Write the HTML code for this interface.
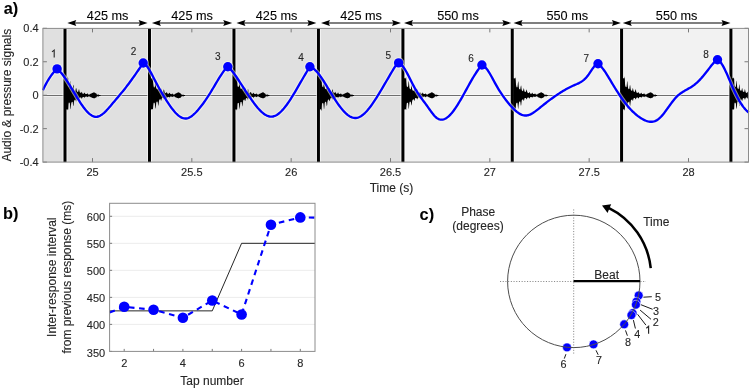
<!DOCTYPE html>
<html><head><meta charset="utf-8"><style>
html,body{margin:0;padding:0;background:#fff;width:751px;height:389px;overflow:hidden}
svg{display:block;will-change:transform}
text{font-family:"Liberation Sans",sans-serif;stroke:#262626;stroke-width:0.12px}
</style></head><body>
<svg width="751" height="389" viewBox="0 0 751 389" font-family="Liberation Sans, sans-serif">
<rect width="751" height="389" fill="#fff"/>
<rect x="42.9" y="28.4" width="360.02000000000004" height="133.7" fill="#e0e0e0"/>
<rect x="402.92" y="28.4" width="345.58" height="133.7" fill="#f2f2f2"/>
<line x1="42.9" y1="95.5" x2="748.5" y2="95.5" stroke="#fff" stroke-opacity="0.45" stroke-width="3"/>
<line x1="42.9" y1="95.5" x2="748.5" y2="95.5" stroke="#6e6e6e" stroke-width="1"/>
<rect x="62.5" y="28.4" width="5" height="133.7" fill="#fff" fill-opacity="0.6"/>
<rect x="146.98" y="28.4" width="5" height="133.7" fill="#fff" fill-opacity="0.6"/>
<rect x="231.46" y="28.4" width="5" height="133.7" fill="#fff" fill-opacity="0.6"/>
<rect x="315.94" y="28.4" width="5" height="133.7" fill="#fff" fill-opacity="0.6"/>
<rect x="400.42" y="28.4" width="5" height="133.7" fill="#fff" fill-opacity="0.6"/>
<rect x="509.75" y="28.4" width="5" height="133.7" fill="#fff" fill-opacity="0.6"/>
<rect x="619.08" y="28.4" width="5" height="133.7" fill="#fff" fill-opacity="0.6"/>
<rect x="728.41" y="28.4" width="5" height="133.7" fill="#fff" fill-opacity="0.6"/>
<path d="M92.5,162.1 v-4 M92.5,28.4 v4 M191.83,162.1 v-4 M191.83,28.4 v4 M291.17,162.1 v-4 M291.17,28.4 v4 M390.5,162.1 v-4 M390.5,28.4 v4 M489.84,162.1 v-4 M489.84,28.4 v4 M589.17,162.1 v-4 M589.17,28.4 v4 M688.51,162.1 v-4 M688.51,28.4 v4 M42.9,28.3 h4 M748.5,28.3 h-4 M42.9,61.75 h4 M748.5,61.75 h-4 M42.9,95.2 h4 M748.5,95.2 h-4 M42.9,128.65 h4 M748.5,128.65 h-4 M42.9,162.1 h4 M748.5,162.1 h-4" stroke="#7a7a7a" stroke-width="1" fill="none"/>
<path d="M66,78.15 L66.25,78.15 L66.5,78.15 L66.75,78.22 L67,78.29 L67.25,78.36 L67.5,78.43 L67.75,76.15 L68,77.38 L68.25,78.93 L68.5,85.27 L68.75,86.5 L69,86.75 L69.25,87.12 L69.5,87.06 L69.75,87.15 L70,85.57 L70.25,83.39 L70.5,80.67 L70.75,82.14 L71,84.36 L71.25,87.51 L71.5,88.3 L71.75,88.79 L72,88.8 L72.25,89.02 L72.5,88.86 L72.75,88.25 L73,86.66 L73.25,84.79 L73.5,84.92 L73.75,86.94 L74,89.25 L74.25,90.08 L74.5,90.57 L74.75,90.89 L75,90.72 L75.25,90.85 L75.5,90.7 L75.75,89.09 L76,88.08 L76.25,88.23 L76.5,88.96 L76.75,90.75 L77,91.52 L77.25,91.92 L77.5,91.69 L77.75,91.76 L78,91.85 L78.25,91.63 L78.5,90.53 L78.75,89.64 L79,88.99 L79.25,90.03 L79.5,91.3 L79.75,92.24 L80,92.61 L80.25,92.65 L80.5,92.72 L80.75,92.84 L81,92.82 L81.25,92.64 L81.5,92.08 L81.75,91.77 L82,92.15 L82.25,93.01 L82.5,93.42 L82.75,93.65 L83,93.66 L83.25,93.69 L83.5,93.73 L83.75,93.73 L84,93.36 L84.25,93 L84.5,92.48 L84.75,92.85 L85,93.23 L85.25,93.72 L85.5,93.94 L85.75,93.94 L86,94.03 L86.25,94.06 L86.5,94.07 L86.75,93.94 L87,93.67 L87.25,93.28 L87.5,93.35 L87.75,93.73 L88,94.17 L88.25,94.39 L88.5,94.44 L88.75,94.41 L89,94.5 L89.25,94.47 L89.5,94.47 L89.75,94.33 L90,94.15 L90.25,94.05 L90.5,93.85 L90.75,93.75 L91,93.61 L91.25,93.57 L91.5,93.43 L91.75,93.28 L92,93.23 L92.25,93.04 L92.5,92.97 L92.75,92.81 L93,92.65 L93.25,92.56 L93.5,92.51 L93.75,92.39 L94,92.21 L94.25,92.39 L94.5,92.55 L94.75,92.65 L95,92.76 L95.25,92.95 L95.5,93.15 L95.75,93.21 L96,93.37 L96.25,93.51 L96.5,93.65 L96.75,94.49 L97,94.55 L97.25,94.59 L97.5,94.65 L97.75,94.68 L98,94.7 L98.25,94.59 L98.5,94.49 L98.75,94.61 L99,94.75 L99.25,94.89 L99.5,94.93 L99.75,94.96 L100,94.99 L100.25,95.03 L100.5,95.05 L100.5,95.94 L100.25,95.97 L100,96.01 L99.75,96.03 L99.5,96.05 L99.25,96.12 L99,96.23 L98.75,96.44 L98.5,96.46 L98.25,96.41 L98,96.33 L97.75,96.32 L97.5,96.34 L97.25,96.43 L97,96.49 L96.75,96.5 L96.5,97.37 L96.25,97.51 L96,97.59 L95.75,97.73 L95.5,97.76 L95.25,97.86 L95,97.95 L94.75,98.14 L94.5,98.23 L94.25,98.27 L94,98.43 L93.75,98.33 L93.5,98.26 L93.25,98.08 L93,98.01 L92.75,97.96 L92.5,97.91 L92.25,97.83 L92,97.72 L91.75,97.58 L91.5,97.52 L91.25,97.35 L91,97.29 L90.75,97.14 L90.5,97.03 L90.25,96.85 L90,96.74 L89.75,96.56 L89.5,96.43 L89.25,96.4 L89,96.42 L88.75,96.42 L88.5,96.46 L88.25,96.5 L88,96.58 L87.75,96.89 L87.5,97.11 L87.25,97.14 L87,97 L86.75,96.66 L86.5,96.59 L86.25,96.59 L86,96.6 L85.75,96.66 L85.5,96.65 L85.25,96.85 L85,97.15 L84.75,97.57 L84.5,97.7 L84.25,97.57 L84,97.19 L83.75,96.97 L83.5,97 L83.25,96.99 L83,97.08 L82.75,97.18 L82.5,97.28 L82.25,97.74 L82,98.42 L81.75,98.65 L81.5,98.54 L81.25,97.79 L81,97.57 L80.75,97.44 L80.5,97.56 L80.25,97.62 L80,97.54 L79.75,97.67 L79.5,98.32 L79.25,99.13 L79,99.59 L78.75,99.42 L78.5,98.71 L78.25,98.05 L78,98.05 L77.75,98.15 L77.5,98.24 L77.25,98.29 L77,98.52 L76.75,98.93 L76.5,100.17 L76.25,101.13 L76,101.5 L75.75,100.61 L75.5,99.69 L75.25,99.46 L75,99.87 L74.75,99.71 L74.5,100.14 L74.25,100.53 L74,101.59 L73.75,103.67 L73.5,106.24 L73.25,105.86 L73,104.71 L72.75,102.21 L72.5,101.75 L72.25,101.95 L72,101.71 L71.75,102.18 L71.5,102.5 L71.25,103.36 L71,105.22 L70.75,109.07 L70.5,109.29 L70.25,107.45 L70,104.22 L69.75,102.85 L69.5,102.63 L69.25,102.84 L69,102.6 L68.75,102.87 L68.5,104.24 L68.25,108.91 L68,109.91 L67.75,110.21 L67.5,109.17 L67.25,109.24 L67,109.31 L66.75,109.38 L66.5,109.45 L66.25,109.45 L66,109.45Z" fill="#000"/>
<path d="M150.48,78.15 L150.73,78.15 L150.98,78.15 L151.23,78.22 L151.48,78.29 L151.73,78.36 L151.98,78.43 L152.23,78.5 L152.48,78.58 L152.73,77.48 L152.98,79.8 L153.23,83.19 L153.48,85.41 L153.73,86.75 L153.98,87.48 L154.23,87.57 L154.48,87.05 L154.73,87.57 L154.98,85.67 L155.23,82.82 L155.48,81.03 L155.73,81.75 L155.98,85.7 L156.23,87.64 L156.48,88.78 L156.73,88.8 L156.98,89.04 L157.23,89.18 L157.48,89.44 L157.73,88.39 L157.98,86.9 L158.23,85.46 L158.48,85.92 L158.73,87.8 L158.98,89.72 L159.23,90.44 L159.48,90.8 L159.73,90.93 L159.98,91.24 L160.23,91.01 L160.48,91.05 L160.73,89.66 L160.98,88.69 L161.23,88.58 L161.48,89.57 L161.73,90.71 L161.98,91.63 L162.23,91.92 L162.48,91.76 L162.73,91.86 L162.98,91.99 L163.23,91.62 L163.48,90.59 L163.73,89.6 L163.98,89.62 L164.23,90.57 L164.48,91.63 L164.73,92.63 L164.98,92.87 L165.23,92.96 L165.48,92.99 L165.73,93.19 L165.98,93.16 L166.23,92.78 L166.48,92.25 L166.73,91.92 L166.98,92.4 L167.23,93.05 L167.48,93.51 L167.73,93.73 L167.98,93.73 L168.23,93.8 L168.48,93.81 L168.73,93.76 L168.98,93.49 L169.23,93.12 L169.48,92.77 L169.73,92.82 L169.98,93.29 L170.23,93.76 L170.48,94.02 L170.73,94.06 L170.98,94.08 L171.23,94.17 L171.48,94.15 L171.73,94.09 L171.98,93.8 L172.23,93.53 L172.48,93.62 L172.73,93.96 L172.98,94.26 L173.23,94.41 L173.48,94.45 L173.73,94.5 L173.98,94.55 L174.23,94.61 L174.48,94.55 L174.73,94.33 L174.98,93.87 L175.23,93.72 L175.48,93.66 L175.73,93.54 L175.98,93.4 L176.23,93.33 L176.48,93.18 L176.73,93.08 L176.98,92.96 L177.23,92.82 L177.48,92.74 L177.73,92.53 L177.98,92.43 L178.23,92.34 L178.48,92.23 L178.73,92.39 L178.98,92.57 L179.23,92.62 L179.48,92.75 L179.73,93.01 L179.98,93.07 L180.23,93.25 L180.48,93.4 L180.73,93.54 L180.98,93.64 L181.23,94.17 L181.48,94.44 L181.73,94.6 L181.98,94.66 L182.23,94.7 L182.48,94.77 L182.73,94.8 L182.98,94.72 L183.23,94.66 L183.48,94.65 L183.73,94.68 L183.98,94.85 L184.23,94.95 L184.48,94.99 L184.73,95.03 L184.98,95.05 L184.98,95.95 L184.73,95.97 L184.48,96 L184.23,96.06 L183.98,96.15 L183.73,96.31 L183.48,96.4 L183.23,96.32 L182.98,96.24 L182.73,96.21 L182.48,96.24 L182.23,96.31 L181.98,96.34 L181.73,96.41 L181.48,96.52 L181.23,96.85 L180.98,97.4 L180.73,97.49 L180.48,97.63 L180.23,97.69 L179.98,97.82 L179.73,97.91 L179.48,98.02 L179.23,98.11 L178.98,98.14 L178.73,98.24 L178.48,98.42 L178.23,98.29 L177.98,98.18 L177.73,98.08 L177.48,98.03 L177.23,97.91 L176.98,97.84 L176.73,97.78 L176.48,97.66 L176.23,97.62 L175.98,97.45 L175.73,97.34 L175.48,97.3 L175.23,97.16 L174.98,97.05 L174.73,96.66 L174.48,96.38 L174.23,96.35 L173.98,96.37 L173.73,96.38 L173.48,96.43 L173.23,96.42 L172.98,96.54 L172.73,96.8 L172.48,97.02 L172.23,97.04 L171.98,96.92 L171.73,96.66 L171.48,96.53 L171.23,96.56 L170.98,96.6 L170.73,96.61 L170.48,96.61 L170.23,96.73 L169.98,97.11 L169.73,97.46 L169.48,97.55 L169.23,97.34 L168.98,97.04 L168.73,96.87 L168.48,96.94 L168.23,97.02 L167.98,97.01 L167.73,97.08 L167.48,97.28 L167.23,97.59 L166.98,98.33 L166.73,98.6 L166.48,98.44 L166.23,97.88 L165.98,97.51 L165.73,97.32 L165.48,97.37 L165.23,97.49 L164.98,97.44 L164.73,97.77 L164.48,98.14 L164.23,98.86 L163.98,99.61 L163.73,99.08 L163.48,98.4 L163.23,97.93 L162.98,97.83 L162.73,97.84 L162.48,98 L162.23,98.02 L161.98,98.34 L161.73,98.7 L161.48,99.77 L161.23,100.86 L160.98,100.82 L160.73,99.99 L160.48,99.28 L160.23,99.07 L159.98,99.21 L159.73,99.37 L159.48,99.74 L159.23,100.03 L158.98,101.24 L158.73,103.29 L158.48,105.48 L158.23,105.76 L157.98,103.87 L157.73,102.43 L157.48,101.53 L157.23,101.7 L156.98,101.5 L156.73,101.71 L156.48,101.93 L156.23,102.83 L155.98,105.4 L155.73,108.46 L155.48,108.51 L155.23,107.2 L154.98,104.52 L154.73,103.24 L154.48,102.82 L154.23,102.76 L153.98,102.69 L153.73,102.75 L153.48,103.71 L153.23,105.8 L152.98,108.98 L152.73,109.72 L152.48,109.02 L152.23,109.1 L151.98,109.17 L151.73,109.24 L151.48,109.31 L151.23,109.38 L150.98,109.45 L150.73,109.45 L150.48,109.45Z" fill="#000"/>
<path d="M234.96,78.15 L235.21,78.15 L235.46,78.15 L235.71,78.22 L235.96,78.29 L236.21,78.36 L236.46,78.43 L236.71,77.52 L236.96,76.77 L237.21,78.93 L237.46,85.3 L237.71,86.21 L237.96,87.09 L238.21,86.9 L238.46,86.75 L238.71,86.72 L238.96,85.81 L239.21,83.04 L239.46,81.72 L239.71,81.68 L239.96,84.09 L240.21,87.09 L240.46,88.42 L240.71,88.67 L240.96,88.64 L241.21,88.8 L241.46,88.85 L241.71,88.89 L241.96,86.62 L242.21,85 L242.46,85.08 L242.71,86.48 L242.96,89.11 L243.21,89.85 L243.46,90.36 L243.71,90.83 L243.96,90.69 L244.21,91.14 L244.46,90.95 L244.71,89.88 L244.96,88.08 L245.21,87.59 L245.46,89.16 L245.71,90.66 L245.96,91.46 L246.21,91.86 L246.46,91.67 L246.71,91.68 L246.96,91.92 L247.21,91.72 L247.46,90.97 L247.71,89.7 L247.96,88.99 L248.21,89.54 L248.46,91.15 L248.71,92.1 L248.96,92.66 L249.21,92.65 L249.46,92.77 L249.71,93.02 L249.96,92.97 L250.21,92.73 L250.46,92.03 L250.71,91.89 L250.96,91.91 L251.21,92.75 L251.46,93.37 L251.71,93.63 L251.96,93.64 L252.21,93.71 L252.46,93.79 L252.71,93.68 L252.96,93.58 L253.21,93.13 L253.46,92.65 L253.71,92.75 L253.96,93.18 L254.21,93.67 L254.46,93.96 L254.71,93.98 L254.96,94.04 L255.21,94.12 L255.46,94.13 L255.71,93.98 L255.96,93.77 L256.21,93.39 L256.46,93.41 L256.71,93.73 L256.96,94.12 L257.21,94.33 L257.46,94.41 L257.71,94.47 L257.96,94.45 L258.21,94.48 L258.46,94.47 L258.71,94.4 L258.96,94.18 L259.21,94 L259.46,93.87 L259.71,93.78 L259.96,93.66 L260.21,93.57 L260.46,93.4 L260.71,93.27 L260.96,93.19 L261.21,93.05 L261.46,92.98 L261.71,92.83 L261.96,92.66 L262.21,92.61 L262.46,92.42 L262.71,92.31 L262.96,92.27 L263.21,92.33 L263.46,92.48 L263.71,92.62 L263.96,92.87 L264.21,92.92 L264.46,93.13 L264.71,93.25 L264.96,93.4 L265.21,93.56 L265.46,94.33 L265.71,94.49 L265.96,94.51 L266.21,94.59 L266.46,94.66 L266.71,94.69 L266.96,94.71 L267.21,94.62 L267.46,94.52 L267.71,94.58 L267.96,94.74 L268.21,94.86 L268.46,94.94 L268.71,94.97 L268.96,95 L269.21,95.02 L269.46,95.05 L269.46,95.95 L269.21,95.97 L268.96,96 L268.71,96.03 L268.46,96.07 L268.21,96.15 L267.96,96.27 L267.71,96.4 L267.46,96.49 L267.21,96.37 L266.96,96.28 L266.71,96.3 L266.46,96.34 L266.21,96.4 L265.96,96.44 L265.71,96.58 L265.46,96.67 L265.21,97.45 L264.96,97.63 L264.71,97.7 L264.46,97.78 L264.21,97.85 L263.96,98.01 L263.71,98.13 L263.46,98.24 L263.21,98.25 L262.96,98.39 L262.71,98.28 L262.46,98.21 L262.21,98.1 L261.96,98.06 L261.71,97.95 L261.46,97.89 L261.21,97.76 L260.96,97.66 L260.71,97.63 L260.46,97.52 L260.21,97.4 L259.96,97.29 L259.71,97.16 L259.46,97.03 L259.21,96.88 L258.96,96.72 L258.71,96.55 L258.46,96.43 L258.21,96.38 L257.96,96.42 L257.71,96.39 L257.46,96.46 L257.21,96.48 L256.96,96.64 L256.71,96.97 L256.46,97.11 L256.21,97.16 L255.96,96.9 L255.71,96.63 L255.46,96.62 L255.21,96.6 L254.96,96.6 L254.71,96.67 L254.46,96.67 L254.21,96.93 L253.96,97.34 L253.71,97.66 L253.46,97.78 L253.21,97.39 L252.96,97.15 L252.71,96.97 L252.46,97.02 L252.21,97.09 L251.96,97.07 L251.71,97.15 L251.46,97.38 L251.21,97.97 L250.96,98.5 L250.71,98.79 L250.46,98.18 L250.21,97.8 L249.96,97.53 L249.71,97.5 L249.46,97.54 L249.21,97.47 L248.96,97.6 L248.71,97.85 L248.46,98.6 L248.21,99.19 L247.96,99.61 L247.71,99.39 L247.46,98.52 L247.21,98.11 L246.96,98.01 L246.71,98.17 L246.46,98.1 L246.21,98.11 L245.96,98.51 L245.71,99.13 L245.46,100.44 L245.21,101.06 L244.96,101.05 L244.71,100.34 L244.46,99.6 L244.21,99.51 L243.96,99.83 L243.71,99.82 L243.46,100.11 L243.21,100.42 L242.96,102.19 L242.71,104.12 L242.46,106.6 L242.21,106.07 L241.96,104.2 L241.71,102.43 L241.46,101.77 L241.21,101.93 L240.96,101.95 L240.71,102.03 L240.46,102.21 L240.21,103.63 L239.96,106.45 L239.71,109.45 L239.46,108.26 L239.21,106.74 L238.96,103.86 L238.71,102.84 L238.46,102.98 L238.21,103.04 L237.96,103.22 L237.71,103.01 L237.46,104.5 L237.21,108.91 L236.96,109.95 L236.71,110.62 L236.46,109.17 L236.21,109.24 L235.96,109.31 L235.71,109.38 L235.46,109.45 L235.21,109.45 L234.96,109.45Z" fill="#000"/>
<path d="M319.44,78.15 L319.69,78.15 L319.94,78.15 L320.19,78.22 L320.44,78.29 L320.69,78.36 L320.94,78.43 L321.19,76.01 L321.44,76.9 L321.69,78.93 L321.94,84.7 L322.19,85.97 L322.44,87.04 L322.69,86.73 L322.94,87.34 L323.19,87.43 L323.44,85.73 L323.69,83.8 L323.94,81.01 L324.19,80.77 L324.44,84.13 L324.69,86.98 L324.94,88.48 L325.19,89.04 L325.44,88.82 L325.69,89.05 L325.94,89.26 L326.19,88.87 L326.44,87.26 L326.69,85.3 L326.94,84.5 L327.19,86.5 L327.44,89.09 L327.69,90.25 L327.94,90.45 L328.19,90.75 L328.44,90.83 L328.69,90.85 L328.94,90.53 L329.19,89.52 L329.44,88.57 L329.69,87.76 L329.94,88.6 L330.19,90.27 L330.44,91.55 L330.69,91.87 L330.94,91.64 L331.19,92.01 L331.44,91.99 L331.69,91.78 L331.94,91.18 L332.19,89.8 L332.44,89.28 L332.69,89.86 L332.94,91.22 L333.19,92.11 L333.44,92.39 L333.69,92.67 L333.94,92.82 L334.19,92.92 L334.44,92.98 L334.69,92.71 L334.94,91.98 L335.19,91.73 L335.44,92.15 L335.69,92.82 L335.94,93.27 L336.19,93.67 L336.44,93.65 L336.69,93.7 L336.94,93.69 L337.19,93.68 L337.44,93.6 L337.69,92.99 L337.94,92.51 L338.19,92.61 L338.44,93.11 L338.69,93.66 L338.94,93.9 L339.19,93.95 L339.44,94.09 L339.69,94.02 L339.94,94.15 L340.19,94.06 L340.44,93.71 L340.69,93.47 L340.94,93.36 L341.19,93.64 L341.44,94.16 L341.69,94.37 L341.94,94.43 L342.19,94.42 L342.44,94.48 L342.69,94.53 L342.94,94.51 L343.19,94.35 L343.44,94.21 L343.69,94.05 L343.94,93.86 L344.19,93.74 L344.44,93.65 L344.69,93.53 L344.94,93.39 L345.19,93.35 L345.44,93.21 L345.69,93.1 L345.94,92.96 L346.19,92.88 L346.44,92.7 L346.69,92.59 L346.94,92.42 L347.19,92.41 L347.44,92.27 L347.69,92.32 L347.94,92.48 L348.19,92.62 L348.44,92.85 L348.69,92.97 L348.94,93.06 L349.19,93.3 L349.44,93.39 L349.69,93.5 L349.94,93.67 L350.19,94.43 L350.44,94.51 L350.69,94.58 L350.94,94.65 L351.19,94.68 L351.44,94.68 L351.69,94.58 L351.94,94.52 L352.19,94.6 L352.44,94.73 L352.69,94.87 L352.94,94.94 L353.19,94.98 L353.44,95 L353.69,95.03 L353.94,95.06 L353.94,95.95 L353.69,95.98 L353.44,96 L353.19,96.04 L352.94,96.07 L352.69,96.13 L352.44,96.28 L352.19,96.44 L351.94,96.47 L351.69,96.41 L351.44,96.29 L351.19,96.3 L350.94,96.34 L350.69,96.42 L350.44,96.5 L350.19,96.53 L349.94,97.34 L349.69,97.48 L349.44,97.6 L349.19,97.68 L348.94,97.82 L348.69,97.9 L348.44,97.99 L348.19,98.06 L347.94,98.15 L347.69,98.28 L347.44,98.36 L347.19,98.35 L346.94,98.25 L346.69,98.12 L346.44,98.09 L346.19,97.92 L345.94,97.92 L345.69,97.76 L345.44,97.73 L345.19,97.6 L344.94,97.51 L344.69,97.34 L344.44,97.28 L344.19,97.13 L343.94,97.07 L343.69,96.92 L343.44,96.66 L343.19,96.53 L342.94,96.43 L342.69,96.39 L342.44,96.42 L342.19,96.44 L341.94,96.46 L341.69,96.51 L341.44,96.68 L341.19,96.9 L340.94,97.2 L340.69,97.14 L340.44,96.82 L340.19,96.7 L339.94,96.63 L339.69,96.62 L339.44,96.66 L339.19,96.68 L338.94,96.67 L338.69,96.9 L338.44,97.34 L338.19,97.75 L337.94,97.71 L337.69,97.51 L337.44,97.08 L337.19,96.99 L336.94,97.05 L336.69,97.11 L336.44,97.16 L336.19,97.23 L335.94,97.35 L335.69,97.89 L335.44,98.5 L335.19,98.59 L334.94,98.4 L334.69,97.71 L334.44,97.42 L334.19,97.43 L333.94,97.6 L333.69,97.6 L333.44,97.54 L333.19,97.79 L332.94,98.34 L332.69,99.35 L332.44,99.46 L332.19,99.13 L331.94,98.64 L331.69,98.03 L331.44,98.09 L331.19,97.97 L330.94,98.11 L330.69,98.2 L330.44,98.46 L330.19,99.16 L329.94,100.45 L329.69,101.12 L329.44,101.31 L329.19,99.95 L328.94,99.61 L328.69,99.62 L328.44,99.49 L328.19,99.77 L327.94,100.03 L327.69,100.76 L327.44,101.67 L327.19,104.66 L326.94,106.04 L326.69,105.7 L326.44,103.98 L326.19,102.14 L325.94,101.97 L325.69,101.69 L325.44,101.7 L325.19,101.68 L324.94,102.52 L324.69,103.33 L324.44,106.4 L324.19,108.82 L323.94,109.28 L323.69,106.79 L323.44,103.96 L323.19,103.25 L322.94,102.8 L322.69,102.89 L322.44,103.03 L322.19,103.46 L321.94,104.47 L321.69,108.91 L321.44,110.35 L321.19,110.93 L320.94,109.17 L320.69,109.24 L320.44,109.31 L320.19,109.38 L319.94,109.45 L319.69,109.45 L319.44,109.45Z" fill="#000"/>
<path d="M403.92,78.15 L404.17,78.15 L404.42,78.15 L404.67,78.22 L404.92,78.29 L405.17,78.36 L405.42,78.43 L405.67,78.5 L405.92,77.36 L406.17,77.28 L406.42,82.42 L406.67,85.59 L406.92,86.87 L407.17,86.55 L407.42,87.32 L407.67,86.96 L407.92,86.86 L408.17,86 L408.42,83.1 L408.67,80.69 L408.92,82 L409.17,84.88 L409.42,87.63 L409.67,88.48 L409.92,88.79 L410.17,89.2 L410.42,89.26 L410.67,89.33 L410.92,89.06 L411.17,87.5 L411.42,84.91 L411.67,84.8 L411.92,86.89 L412.17,89.42 L412.42,90.07 L412.67,90.54 L412.92,90.61 L413.17,91.03 L413.42,90.96 L413.67,90.74 L413.92,89.67 L414.17,88.28 L414.42,88.22 L414.67,88.8 L414.92,90.38 L415.17,91.58 L415.42,91.9 L415.67,91.96 L415.92,91.72 L416.17,92.07 L416.42,91.73 L416.67,91.09 L416.92,89.56 L417.17,89.28 L417.42,89.74 L417.67,91.33 L417.92,92.39 L418.17,92.54 L418.42,92.73 L418.67,92.94 L418.92,92.96 L419.17,93.08 L419.42,92.72 L419.67,92.27 L419.92,91.88 L420.17,92.22 L420.42,92.92 L420.67,93.31 L420.92,93.61 L421.17,93.71 L421.42,93.75 L421.67,93.69 L421.92,93.7 L422.17,93.51 L422.42,93.02 L422.67,92.61 L422.92,92.73 L423.17,93.19 L423.42,93.66 L423.67,93.96 L423.92,94.03 L424.17,94.05 L424.42,94.08 L424.67,94.1 L424.92,94.02 L425.17,93.71 L425.42,93.4 L425.67,93.43 L425.92,93.72 L426.17,94.16 L426.42,94.34 L426.67,94.44 L426.92,94.46 L427.17,94.54 L427.42,94.54 L427.67,94.54 L427.92,94.39 L428.17,94.07 L428.42,93.88 L428.67,93.74 L428.92,93.62 L429.17,93.57 L429.42,93.44 L429.67,93.34 L429.92,93.23 L430.17,93.13 L430.42,92.97 L430.67,92.82 L430.92,92.66 L431.17,92.6 L431.42,92.48 L431.67,92.3 L431.92,92.29 L432.17,92.43 L432.42,92.54 L432.67,92.61 L432.92,92.82 L433.17,92.94 L433.42,93.14 L433.67,93.24 L433.92,93.35 L434.17,93.53 L434.42,93.68 L434.67,94.37 L434.92,94.55 L435.17,94.57 L435.42,94.65 L435.67,94.72 L435.92,94.76 L436.17,94.71 L436.42,94.65 L436.67,94.58 L436.92,94.64 L437.17,94.78 L437.42,94.9 L437.67,94.96 L437.92,95 L438.17,95.02 L438.42,95.05 L438.42,95.94 L438.17,95.97 L437.92,96.01 L437.67,96.03 L437.42,96.09 L437.17,96.22 L436.92,96.39 L436.67,96.42 L436.42,96.39 L436.17,96.28 L435.92,96.26 L435.67,96.31 L435.42,96.33 L435.17,96.4 L434.92,96.49 L434.67,96.64 L434.42,97.33 L434.17,97.52 L433.92,97.61 L433.67,97.75 L433.42,97.81 L433.17,97.88 L432.92,98.03 L432.67,98.13 L432.42,98.2 L432.17,98.29 L431.92,98.4 L431.67,98.28 L431.42,98.17 L431.17,98.1 L430.92,97.99 L430.67,97.93 L430.42,97.88 L430.17,97.78 L429.92,97.67 L429.67,97.58 L429.42,97.45 L429.17,97.37 L428.92,97.27 L428.67,97.14 L428.42,97.04 L428.17,96.77 L427.92,96.53 L427.67,96.4 L427.42,96.38 L427.17,96.4 L426.92,96.41 L426.67,96.43 L426.42,96.49 L426.17,96.58 L425.92,96.89 L425.67,97.18 L425.42,97.15 L425.17,96.85 L424.92,96.67 L424.67,96.57 L424.42,96.6 L424.17,96.6 L423.92,96.6 L423.67,96.62 L423.42,96.83 L423.17,97.16 L422.92,97.64 L422.67,97.63 L422.42,97.38 L422.17,97.11 L421.92,96.99 L421.67,96.95 L421.42,97.04 L421.17,97 L420.92,97.12 L420.67,97.4 L420.42,97.82 L420.17,98.43 L419.92,98.66 L419.67,98.29 L419.42,97.84 L419.17,97.55 L418.92,97.4 L418.67,97.41 L418.42,97.44 L418.17,97.59 L417.92,97.82 L417.67,98.44 L417.42,99.01 L417.17,99.39 L416.92,99.16 L416.67,98.5 L416.42,98.01 L416.17,98.07 L415.92,97.94 L415.67,98.12 L415.42,98.05 L415.17,98.33 L414.92,99.09 L414.67,100.13 L414.42,101.02 L414.17,100.5 L413.92,99.73 L413.67,99.42 L413.42,99.1 L413.17,99.45 L412.92,99.61 L412.67,100.1 L412.42,100.2 L412.17,101.35 L411.92,103.35 L411.67,105.59 L411.42,105.23 L411.17,104.06 L410.92,102.46 L410.67,101.68 L410.42,101.47 L410.17,101.91 L409.92,101.74 L409.67,101.81 L409.42,103.17 L409.17,105.52 L408.92,108.28 L408.67,109.26 L408.42,106.66 L408.17,103.72 L407.92,102.92 L407.67,102.6 L407.42,103.17 L407.17,102.67 L406.92,102.69 L406.67,104.16 L406.42,106.96 L406.17,110.02 L405.92,110.09 L405.67,109.1 L405.42,109.17 L405.17,109.24 L404.92,109.31 L404.67,109.38 L404.42,109.45 L404.17,109.45 L403.92,109.45Z" fill="#000"/>
<path d="M513.25,78.15 L513.5,78.15 L513.75,78.15 L514,78.22 L514.25,78.29 L514.5,78.36 L514.75,78.43 L515,78.5 L515.25,77.56 L515.5,77.65 L515.75,80.08 L516,84.4 L516.25,85.99 L516.5,86.91 L516.75,87.33 L517,87.45 L517.25,87.33 L517.5,86.75 L517.75,84.44 L518,82.2 L518.25,81.03 L518.5,82.74 L518.75,86.51 L519,88.41 L519.25,89.15 L519.5,89.06 L519.75,89.15 L520,89.57 L520.25,89.41 L520.5,87.7 L520.75,86.49 L521,85.53 L521.25,85.77 L521.5,88.55 L521.75,90.09 L522,90.39 L522.25,90.85 L522.5,91.01 L522.75,91.21 L523,90.91 L523.25,90.25 L523.5,88.97 L523.75,88.16 L524,88.42 L524.25,90.24 L524.5,91.35 L524.75,91.64 L525,92.01 L525.25,91.86 L525.5,92.01 L525.75,91.74 L526,91.43 L526.25,90.22 L526.5,89.41 L526.75,89.83 L527,90.94 L527.25,92.09 L527.5,92.48 L527.75,92.83 L528,92.96 L528.25,93.05 L528.5,93.04 L528.75,93.13 L529,92.68 L529.25,92.01 L529.5,91.94 L529.75,92.44 L530,93.32 L530.25,93.51 L530.5,93.7 L530.75,93.67 L531,93.75 L531.25,93.79 L531.5,93.65 L531.75,93.38 L532,92.92 L532.25,92.62 L532.5,92.93 L532.75,93.53 L533,93.87 L533.25,94.02 L533.5,94.03 L533.75,94.12 L534,94.11 L534.25,94.07 L534.5,93.92 L534.75,93.6 L535,93.4 L535.25,93.61 L535.5,94.07 L535.75,94.36 L536,94.45 L536.25,94.48 L536.5,94.55 L536.75,94.53 L537,94.56 L537.25,94.51 L537.5,94.24 L537.75,93.84 L538,93.73 L538.25,93.67 L538.5,93.56 L538.75,93.42 L539,93.35 L539.25,93.2 L539.5,93.08 L539.75,92.98 L540,92.83 L540.25,92.75 L540.5,92.58 L540.75,92.48 L541,92.37 L541.25,92.21 L541.5,92.36 L541.75,92.54 L542,92.67 L542.25,92.75 L542.5,92.94 L542.75,93.09 L543,93.26 L543.25,93.35 L543.5,93.51 L543.75,93.67 L544,94.27 L544.25,94.49 L544.5,94.6 L544.75,94.65 L545,94.72 L545.25,94.75 L545.5,94.76 L545.75,94.68 L546,94.6 L546.25,94.64 L546.5,94.75 L546.75,94.86 L547,94.95 L547.25,95 L547.5,95.03 L547.75,95.05 L547.75,95.95 L547.5,95.98 L547.25,96 L547,96.05 L546.75,96.13 L546.5,96.28 L546.25,96.41 L546,96.37 L545.75,96.29 L545.5,96.25 L545.25,96.23 L545,96.29 L544.75,96.36 L544.5,96.38 L544.25,96.47 L544,96.67 L543.75,97.33 L543.5,97.47 L543.25,97.57 L543,97.72 L542.75,97.83 L542.5,97.92 L542.25,98 L542,98.08 L541.75,98.18 L541.5,98.25 L541.25,98.42 L541,98.27 L540.75,98.17 L540.5,98.18 L540.25,98.01 L540,97.95 L539.75,97.84 L539.5,97.75 L539.25,97.66 L539,97.55 L538.75,97.48 L538.5,97.38 L538.25,97.28 L538,97.14 L537.75,97.07 L537.5,96.77 L537.25,96.44 L537,96.34 L536.75,96.37 L536.5,96.36 L536.25,96.42 L536,96.45 L535.75,96.52 L535.5,96.74 L535.25,97.04 L535,97.07 L534.75,96.98 L534.5,96.78 L534.25,96.63 L534,96.54 L533.75,96.6 L533.5,96.63 L533.25,96.66 L533,96.66 L532.75,96.88 L532.5,97.36 L532.25,97.63 L532,97.49 L531.75,97.25 L531.5,97 L531.25,96.89 L531,96.92 L530.75,97.01 L530.5,97.09 L530.25,97.17 L530,97.43 L529.75,98.16 L529.5,98.54 L529.25,98.43 L529,97.92 L528.75,97.57 L528.5,97.39 L528.25,97.48 L528,97.46 L527.75,97.53 L527.5,97.68 L527.25,97.98 L527,98.75 L526.75,99.34 L526.5,99.45 L526.25,98.77 L526,98.3 L525.75,97.89 L525.5,97.94 L525.25,97.98 L525,97.99 L524.75,98.11 L524.5,98.56 L524.25,99.57 L524,100.52 L523.75,100.9 L523.5,100.41 L523.25,99.47 L523,99.18 L522.75,99.39 L522.5,99.62 L522.25,99.77 L522,99.75 L521.75,100.41 L521.5,102.15 L521.25,104.65 L521,105.65 L520.75,105.24 L520.5,103.11 L520.25,101.54 L520,101.47 L519.75,101.47 L519.5,101.47 L519.25,102.11 L519,102.47 L518.75,104.25 L518.5,106.44 L518.25,109.25 L518,108.11 L517.75,105.68 L517.5,103.22 L517.25,102.53 L517,103.08 L516.75,102.92 L516.5,102.6 L516.25,103.53 L516,104.5 L515.75,108.34 L515.5,110.75 L515.25,110.2 L515,109.1 L514.75,109.17 L514.5,109.24 L514.25,109.31 L514,109.38 L513.75,109.45 L513.5,109.45 L513.25,109.45Z" fill="#000"/>
<path d="M622.58,78.15 L622.83,78.15 L623.08,78.15 L623.33,78.22 L623.58,78.29 L623.83,78.36 L624.08,78.43 L624.33,77.77 L624.58,76.15 L624.83,78.93 L625.08,84.84 L625.33,86.37 L625.58,87.01 L625.83,86.6 L626.08,87 L626.33,87.27 L626.58,86.87 L626.83,84.57 L627.08,81.66 L627.33,80.92 L627.58,83.65 L627.83,86.28 L628.08,88.15 L628.33,88.47 L628.58,89.05 L628.83,89.32 L629.08,89.04 L629.33,88.9 L629.58,87.35 L629.83,85.39 L630.08,84.91 L630.33,86.03 L630.58,88.48 L630.83,89.73 L631.08,90.41 L631.33,90.57 L631.58,90.59 L631.83,91.04 L632.08,90.79 L632.33,90.11 L632.58,88.99 L632.83,87.79 L633.08,88.79 L633.33,89.94 L633.58,91.32 L633.83,91.58 L634.08,91.67 L634.33,91.87 L634.58,91.75 L634.83,91.93 L635.08,91.34 L635.33,90.05 L635.58,89.23 L635.83,89.53 L636.08,90.79 L636.33,91.92 L636.58,92.47 L636.83,92.79 L637.08,92.73 L637.33,92.85 L637.58,93.02 L637.83,92.78 L638.08,92.41 L638.33,91.93 L638.58,92.14 L638.83,92.69 L639.08,93.28 L639.33,93.51 L639.58,93.71 L639.83,93.71 L640.08,93.77 L640.33,93.66 L640.58,93.6 L640.83,93.28 L641.08,92.77 L641.33,92.7 L641.58,92.93 L641.83,93.64 L642.08,93.96 L642.33,93.94 L642.58,94.01 L642.83,94.09 L643.08,94.07 L643.33,94.02 L643.58,93.86 L643.83,93.4 L644.08,93.31 L644.33,93.59 L644.58,94.04 L644.83,94.35 L645.08,94.42 L645.33,94.43 L645.58,94.48 L645.83,94.48 L646.08,94.53 L646.33,94.44 L646.58,94.28 L646.83,93.95 L647.08,93.86 L647.33,93.73 L647.58,93.63 L647.83,93.51 L648.08,93.42 L648.33,93.28 L648.58,93.17 L648.83,93.09 L649.08,92.91 L649.33,92.87 L649.58,92.76 L649.83,92.55 L650.08,92.42 L650.33,92.32 L650.58,92.22 L650.83,92.44 L651.08,92.5 L651.33,92.61 L651.58,92.77 L651.83,92.99 L652.08,93.12 L652.33,93.24 L652.58,93.4 L652.83,93.48 L653.08,93.64 L653.33,94.42 L653.58,94.5 L653.83,94.59 L654.08,94.68 L654.33,94.72 L654.58,94.71 L654.83,94.64 L655.08,94.54 L655.33,94.56 L655.58,94.68 L655.83,94.84 L656.08,94.93 L656.33,94.97 L656.58,94.99 L656.83,95.03 L657.08,95.05 L657.08,95.95 L656.83,95.97 L656.58,96.01 L656.33,96.03 L656.08,96.08 L655.83,96.15 L655.58,96.28 L655.33,96.44 L655.08,96.44 L654.83,96.38 L654.58,96.26 L654.33,96.27 L654.08,96.35 L653.83,96.41 L653.58,96.47 L653.33,96.55 L653.08,97.37 L652.83,97.47 L652.58,97.57 L652.33,97.68 L652.08,97.77 L651.83,97.87 L651.58,98.03 L651.33,98.08 L651.08,98.19 L650.83,98.35 L650.58,98.34 L650.33,98.28 L650.08,98.27 L649.83,98.09 L649.58,98.09 L649.33,97.92 L649.08,97.9 L648.83,97.78 L648.58,97.75 L648.33,97.58 L648.08,97.46 L647.83,97.39 L647.58,97.29 L647.33,97.13 L647.08,97.05 L646.83,96.94 L646.58,96.68 L646.33,96.47 L646.08,96.38 L645.83,96.41 L645.58,96.42 L645.33,96.44 L645.08,96.42 L644.83,96.47 L644.58,96.68 L644.33,96.96 L644.08,97.21 L643.83,97.11 L643.58,96.84 L643.33,96.62 L643.08,96.59 L642.83,96.58 L642.58,96.6 L642.33,96.67 L642.08,96.71 L641.83,96.95 L641.58,97.38 L641.33,97.62 L641.08,97.75 L640.83,97.33 L640.58,97.01 L640.33,96.98 L640.08,97.05 L639.83,97.04 L639.58,97.07 L639.33,97.2 L639.08,97.4 L638.83,97.98 L638.58,98.49 L638.33,98.62 L638.08,98.1 L637.83,97.58 L637.58,97.4 L637.33,97.46 L637.08,97.58 L636.83,97.62 L636.58,97.66 L636.33,97.93 L636.08,98.76 L635.83,99.36 L635.58,99.39 L635.33,99.09 L635.08,98.29 L634.83,97.96 L634.58,98.12 L634.33,98.05 L634.08,98.09 L633.83,98.32 L633.58,98.58 L633.33,99.28 L633.08,100.53 L632.83,100.94 L632.58,100.58 L632.33,99.78 L632.08,99.24 L631.83,99.41 L631.58,99.81 L631.33,99.97 L631.08,99.97 L630.83,100.74 L630.58,102.55 L630.33,104.8 L630.08,106.51 L629.83,105.84 L629.58,103.61 L629.33,101.67 L629.08,101.41 L628.83,101.66 L628.58,102.14 L628.33,102.13 L628.08,102.46 L627.83,103.82 L627.58,107.22 L627.33,108.96 L627.08,108.11 L626.83,105.91 L626.58,103.21 L626.33,102.88 L626.08,102.92 L625.83,102.65 L625.58,102.81 L625.33,102.99 L625.08,105.02 L624.83,108.91 L624.58,110.39 L624.33,110.28 L624.08,109.17 L623.83,109.24 L623.58,109.31 L623.33,109.38 L623.08,109.45 L622.83,109.45 L622.58,109.45Z" fill="#000"/>
<path d="M731.91,78.15 L732.16,78.15 L732.41,78.15 L732.66,78.22 L732.91,78.29 L733.16,78.36 L733.41,78.43 L733.66,77.32 L733.91,77.96 L734.16,78.93 L734.41,85.3 L734.66,85.86 L734.91,86.57 L735.16,86.74 L735.41,86.91 L735.66,86.94 L735.91,85.96 L736.16,84.02 L736.41,81.09 L736.66,80.66 L736.91,83.83 L737.16,87.15 L737.41,88.08 L737.66,88.55 L737.91,88.78 L738.16,88.79 L738.41,89.15 L738.66,88.87 L738.91,86.95 L739.16,84.6 L739.41,84.56 L739.66,86.83 L739.91,88.97 L740.16,90.16 L740.41,90.34 L740.66,90.82 L740.91,90.97 L741.16,90.72 L741.41,90.6 L741.66,90.02 L741.91,88.5 L742.16,88.02 L742.41,88.98 L742.66,90.5 L742.91,91.52 L743.16,91.89 L743.41,91.79 L743.66,91.74 L743.91,91.8 L744.16,91.88 L744.41,91.13 L744.66,89.69 L744.91,89.09 L745.16,89.98 L745.41,91.22 L745.66,92.27 L745.91,92.45 L746.16,92.66 L746.41,92.68 L746.66,93.02 L746.91,92.95 L747.16,92.77 L747.41,92.06 L747.66,91.86 L747.91,92 L747.91,98.62 L747.66,98.72 L747.41,98.31 L747.16,97.7 L746.91,97.5 L746.66,97.49 L746.41,97.5 L746.16,97.49 L745.91,97.7 L745.66,97.93 L745.41,98.55 L745.16,99.39 L744.91,99.83 L744.66,99.34 L744.41,98.49 L744.16,97.97 L743.91,98.13 L743.66,98.08 L743.41,98.11 L743.16,98.13 L742.91,98.36 L742.66,99.24 L742.41,100.34 L742.16,101.02 L741.91,100.9 L741.66,100.32 L741.41,99.46 L741.16,99.36 L740.91,99.74 L740.66,99.86 L740.41,100.33 L740.16,100.55 L739.91,101.77 L739.66,103.82 L739.41,105.91 L739.16,105.9 L738.91,103.56 L738.66,102.24 L738.41,101.49 L738.16,101.92 L737.91,101.97 L737.66,101.71 L737.41,102.05 L737.16,103.45 L736.91,106.65 L736.66,108.89 L736.41,108.38 L736.16,106.9 L735.91,103.66 L735.66,103.23 L735.41,102.82 L735.16,102.76 L734.91,102.86 L734.66,102.82 L734.41,104.01 L734.16,108.91 L733.91,109.72 L733.66,109.71 L733.41,109.17 L733.16,109.24 L732.91,109.31 L732.66,109.38 L732.41,109.45 L732.16,109.45 L731.91,109.45Z" fill="#000"/>
<rect x="63.5" y="28.4" width="3" height="133.7" fill="#000"/>
<rect x="147.98" y="28.4" width="3" height="133.7" fill="#000"/>
<rect x="232.46" y="28.4" width="3" height="133.7" fill="#000"/>
<rect x="316.94" y="28.4" width="3" height="133.7" fill="#000"/>
<rect x="401.42" y="28.4" width="3" height="133.7" fill="#000"/>
<rect x="510.75" y="28.4" width="3" height="133.7" fill="#000"/>
<rect x="620.08" y="28.4" width="3" height="133.7" fill="#000"/>
<rect x="729.41" y="28.4" width="3" height="133.7" fill="#000"/>
<path d="M42.9,90.2 43.9,88.07 44.9,86.04 45.9,84.11 46.9,82.26 47.9,80.52 48.9,78.87 49.9,77.31 50.9,75.85 51.9,74.48 52.9,73.21 53.9,72.03 54.9,70.95 55.9,69.96 56.9,69.07 57.1,68.9 58.1,69.74 59.1,70.68 60.1,71.72 61.1,72.84 62.1,74.05 63.1,75.33 64.1,76.69 65.1,78.1 66.1,79.57 67.1,81.09 68.1,82.65 69.1,84.25 70.1,85.87 71.1,87.52 72.1,89.19 73.1,90.86 74.1,92.54 75.1,94.22 76.1,95.88 77.1,97.53 78.1,99.15 79.1,100.74 80.1,102.3 81.1,103.81 82.1,105.27 83.1,106.68 84.1,108.02 85.1,109.3 86.1,110.49 87.1,111.61 88.1,112.63 89.1,113.56 90.1,114.38 91.1,115.1 92.1,115.7 93.1,116.18 94.1,116.53 95.1,116.74 96.1,116.81 97.1,116.73 98.1,116.52 99.1,116.17 100.1,115.7 101.1,115.11 102.1,114.43 103.1,113.65 104.1,112.79 105.1,111.85 106.1,110.85 107.1,109.79 108.1,108.69 109.1,107.56 110.1,106.4 111.1,105.22 112.1,104.03 113.1,102.85 114.1,101.67 115.1,100.49 116.1,99.31 117.1,98.13 118.1,96.94 119.1,95.75 120.1,94.55 121.1,93.35 122.1,92.13 123.1,90.9 124.1,89.66 125.1,88.4 126.1,87.12 127.1,85.82 128.1,84.5 129.1,83.17 130.1,81.81 131.1,80.44 132.1,79.06 133.1,77.66 134.1,76.24 135.1,74.82 136.1,73.38 137.1,71.94 138.1,70.49 139.1,69.03 140.1,67.56 141.1,66.09 142.1,64.62 143.1,63.15 143.2,63 144.2,63.51 145.2,64.3 146.2,65.33 147.2,66.58 148.2,68.01 149.2,69.6 150.2,71.33 151.2,73.15 152.2,75.04 153.2,76.98 154.2,78.93 155.2,80.86 156.2,82.76 157.2,84.63 158.2,86.46 159.2,88.26 160.2,90.04 161.2,91.78 162.2,93.49 163.2,95.18 164.2,96.84 165.2,98.47 166.2,100.07 167.2,101.64 168.2,103.18 169.2,104.67 170.2,106.12 171.2,107.51 172.2,108.85 173.2,110.12 174.2,111.33 175.2,112.46 176.2,113.51 177.2,114.47 178.2,115.35 179.2,116.13 180.2,116.81 181.2,117.39 182.2,117.85 183.2,118.19 184.2,118.42 185.2,118.51 186.2,118.47 187.2,118.3 188.2,118.01 189.2,117.59 190.2,117.06 191.2,116.43 192.2,115.7 193.2,114.89 194.2,113.99 195.2,113.02 196.2,111.99 197.2,110.9 198.2,109.76 199.2,108.58 200.2,107.35 201.2,106.09 202.2,104.79 203.2,103.44 204.2,102.06 205.2,100.64 206.2,99.19 207.2,97.7 208.2,96.17 209.2,94.6 210.2,93 211.2,91.37 212.2,89.71 213.2,88.02 214.2,86.33 215.2,84.62 216.2,82.93 217.2,81.24 218.2,79.57 219.2,77.93 220.2,76.33 221.2,74.77 222.2,73.28 223.2,71.85 224.2,70.53 225.2,69.31 226.2,68.22 227.2,67.28 227.8,66.8 228.8,67.63 229.8,68.58 230.8,69.62 231.8,70.76 232.8,71.98 233.8,73.28 234.8,74.64 235.8,76.05 236.8,77.51 237.8,79 238.8,80.52 239.8,82.05 240.8,83.59 241.8,85.13 242.8,86.67 243.8,88.21 244.8,89.74 245.8,91.27 246.8,92.79 247.8,94.29 248.8,95.78 249.8,97.25 250.8,98.7 251.8,100.13 252.8,101.53 253.8,102.89 254.8,104.22 255.8,105.5 256.8,106.74 257.8,107.93 258.8,109.06 259.8,110.13 260.8,111.14 261.8,112.07 262.8,112.94 263.8,113.72 264.8,114.42 265.8,115.03 266.8,115.56 267.8,115.98 268.8,116.31 269.8,116.52 270.8,116.63 271.8,116.63 272.8,116.5 273.8,116.26 274.8,115.92 275.8,115.46 276.8,114.91 277.8,114.25 278.8,113.51 279.8,112.67 280.8,111.75 281.8,110.75 282.8,109.67 283.8,108.52 284.8,107.3 285.8,106.02 286.8,104.68 287.8,103.28 288.8,101.83 289.8,100.34 290.8,98.8 291.8,97.22 292.8,95.61 293.8,93.96 294.8,92.3 295.8,90.6 296.8,88.9 297.8,87.17 298.8,85.44 299.8,83.7 300.8,81.96 301.8,80.23 302.8,78.5 303.8,76.78 304.8,75.08 305.8,73.4 306.8,71.74 307.8,70.11 308.8,68.51 309.8,66.95 309.9,66.8 310.9,67.13 311.9,67.61 312.9,68.22 313.9,68.96 314.9,69.82 315.9,70.78 316.9,71.85 317.9,73.01 318.9,74.26 319.9,75.58 320.9,76.98 321.9,78.43 322.9,79.94 323.9,81.5 324.9,83.09 325.9,84.71 326.9,86.35 327.9,88.01 328.9,89.67 329.9,91.32 330.9,92.97 331.9,94.6 332.9,96.21 333.9,97.8 334.9,99.35 335.9,100.88 336.9,102.37 337.9,103.81 338.9,105.21 339.9,106.57 340.9,107.86 341.9,109.1 342.9,110.28 343.9,111.39 344.9,112.43 345.9,113.4 346.9,114.28 347.9,115.08 348.9,115.8 349.9,116.42 350.9,116.95 351.9,117.37 352.9,117.69 353.9,117.9 354.9,118 355.9,117.98 356.9,117.85 357.9,117.6 358.9,117.24 359.9,116.78 360.9,116.21 361.9,115.55 362.9,114.8 363.9,113.97 364.9,113.04 365.9,112.04 366.9,110.97 367.9,109.82 368.9,108.61 369.9,107.34 370.9,106.01 371.9,104.62 372.9,103.19 373.9,101.71 374.9,100.2 375.9,98.64 376.9,97.06 377.9,95.44 378.9,93.81 379.9,92.15 380.9,90.48 381.9,88.8 382.9,87.1 383.9,85.4 384.9,83.69 385.9,81.98 386.9,80.26 387.9,78.55 388.9,76.84 389.9,75.13 390.9,73.43 391.9,71.74 392.9,70.07 393.9,68.45 394.9,66.91 395.9,65.52 396.9,64.3 397.9,63.32 398.6,62.8 399.6,63.23 400.6,63.93 401.6,64.86 402.6,66.01 403.6,67.35 404.6,68.86 405.6,70.5 406.6,72.27 407.6,74.13 408.6,76.05 409.6,78.03 410.6,80.02 411.6,82.01 412.6,83.97 413.6,85.88 414.6,87.72 415.6,89.47 416.6,91.12 417.6,92.71 418.6,94.22 419.6,95.68 420.6,97.1 421.6,98.49 422.6,99.84 423.6,101.19 424.6,102.53 425.6,103.88 426.6,105.24 427.6,106.64 428.6,108.06 429.6,109.49 430.6,110.91 431.6,112.29 432.6,113.61 433.6,114.85 434.6,115.98 435.6,116.99 436.6,117.85 437.6,118.54 438.6,119.06 439.6,119.43 440.6,119.63 441.6,119.68 442.6,119.59 443.6,119.36 444.6,118.99 445.6,118.5 446.6,117.89 447.6,117.16 448.6,116.32 449.6,115.37 450.6,114.33 451.6,113.2 452.6,111.98 453.6,110.67 454.6,109.3 455.6,107.85 456.6,106.35 457.6,104.78 458.6,103.16 459.6,101.5 460.6,99.8 461.6,98.07 462.6,96.3 463.6,94.52 464.6,92.72 465.6,90.91 466.6,89.09 467.6,87.28 468.6,85.47 469.6,83.68 470.6,81.91 471.6,80.16 472.6,78.44 473.6,76.76 474.6,75.12 475.6,73.53 476.6,71.99 477.6,70.52 478.6,69.11 479.6,67.77 480.6,66.51 481.6,65.33 481.9,65 482.9,65.37 483.9,65.99 484.9,66.84 485.9,67.9 486.9,69.15 487.9,70.55 488.9,72.09 489.9,73.74 490.9,75.48 491.9,77.28 492.9,79.12 493.9,80.98 494.9,82.84 495.9,84.66 496.9,86.42 497.9,88.13 498.9,89.79 499.9,91.39 500.9,92.94 501.9,94.43 502.9,95.89 503.9,97.29 504.9,98.66 505.9,99.98 506.9,101.26 507.9,102.51 508.9,103.72 509.9,104.9 510.9,106.05 511.9,107.14 512.9,108.2 513.9,109.2 514.9,110.14 515.9,111.03 516.9,111.85 517.9,112.6 518.9,113.27 519.9,113.87 520.9,114.38 521.9,114.81 522.9,115.14 523.9,115.37 524.9,115.51 525.9,115.54 526.9,115.46 527.9,115.27 528.9,114.98 529.9,114.6 530.9,114.14 531.9,113.61 532.9,113.01 533.9,112.36 534.9,111.66 535.9,110.92 536.9,110.15 537.9,109.35 538.9,108.55 539.9,107.74 540.9,106.93 541.9,106.12 542.9,105.32 543.9,104.53 544.9,103.75 545.9,102.97 546.9,102.19 547.9,101.43 548.9,100.67 549.9,99.92 550.9,99.18 551.9,98.45 552.9,97.73 553.9,97.02 554.9,96.32 555.9,95.62 556.9,94.94 557.9,94.27 558.9,93.61 559.9,92.97 560.9,92.33 561.9,91.71 562.9,91.1 563.9,90.5 564.9,89.92 565.9,89.35 566.9,88.79 567.9,88.25 568.9,87.72 569.9,87.21 570.9,86.72 571.9,86.24 572.9,85.77 573.9,85.33 574.9,84.89 575.9,84.47 576.9,84.04 577.9,83.58 578.9,83.1 579.9,82.58 580.9,82.01 581.9,81.37 582.9,80.66 583.9,79.86 584.9,78.96 585.9,77.94 586.9,76.81 587.9,75.54 588.9,74.14 589.9,72.66 590.9,71.13 591.9,69.62 592.9,68.17 593.9,66.84 594.9,65.68 595.9,64.74 596.9,64.07 597.9,63.71 598,63.7 599,64.48 600,65.4 601,66.45 602,67.62 603,68.89 604,70.25 605,71.69 606,73.2 607,74.77 608,76.39 609,78.03 610,79.7 611,81.38 612,83.06 613,84.73 614,86.38 615,88 616,89.6 617,91.18 618,92.74 619,94.26 620,95.76 621,97.22 622,98.66 623,100.05 624,101.41 625,102.74 626,104.02 627,105.26 628,106.46 629,107.61 630,108.72 631,109.79 632,110.81 633,111.79 634,112.73 635,113.63 636,114.49 637,115.3 638,116.08 639,116.81 640,117.5 641,118.15 642,118.77 643,119.34 644,119.86 645,120.33 646,120.75 647,121.1 648,121.39 649,121.6 650,121.74 651,121.79 652,121.76 653,121.63 654,121.41 655,121.08 656,120.65 657,120.1 658,119.43 659,118.64 660,117.73 661,116.72 662,115.62 663,114.44 664,113.19 665,111.88 666,110.53 667,109.16 668,107.76 669,106.36 670,104.96 671,103.58 672,102.24 673,100.93 674,99.69 675,98.51 676,97.41 677,96.4 678,95.47 679,94.61 680,93.82 681,93.09 682,92.41 683,91.77 684,91.16 685,90.58 686,90.01 687,89.45 688,88.89 689,88.32 690,87.74 691,87.13 692,86.49 693,85.81 694,85.08 695,84.29 696,83.45 697,82.56 698,81.62 699,80.63 700,79.59 701,78.52 702,77.4 703,76.24 704,75.05 705,73.83 706,72.57 707,71.29 708,69.98 709,68.66 710,67.35 711,66.07 712,64.83 713,63.66 714,62.56 715,61.56 716,60.68 717,59.92 717.5,59.6 718.5,60.18 719.5,61.05 720.5,62.18 721.5,63.55 722.5,65.14 723.5,66.91 724.5,68.84 725.5,70.9 726.5,73.08 727.5,75.34 728.5,77.67 729.5,80.02 730.5,82.39 731.5,84.73 732.5,87.04 733.5,89.28 734.5,91.44 735.5,93.53 736.5,95.54 737.5,97.47 738.5,99.31 739.5,101.06 740.5,102.72 741.5,104.28 742.5,105.74 743.5,107.11 744.5,108.36 745.5,109.51 746.5,110.55 747.5,111.47 748.5,112.28 748.8,112.5" stroke="#fffff0" stroke-opacity="0.55" stroke-width="4.3" fill="none" stroke-linejoin="round"/>
<circle cx="57.1" cy="68.9" r="5.7" fill="#fffff0" fill-opacity="0.55"/>
<circle cx="143.2" cy="63" r="5.7" fill="#fffff0" fill-opacity="0.55"/>
<circle cx="227.8" cy="66.8" r="5.7" fill="#fffff0" fill-opacity="0.55"/>
<circle cx="309.9" cy="66.8" r="5.7" fill="#fffff0" fill-opacity="0.55"/>
<circle cx="398.6" cy="62.9" r="5.7" fill="#fffff0" fill-opacity="0.55"/>
<circle cx="481.9" cy="65" r="5.7" fill="#fffff0" fill-opacity="0.55"/>
<circle cx="598" cy="63.7" r="5.7" fill="#fffff0" fill-opacity="0.55"/>
<circle cx="717.5" cy="59.8" r="5.7" fill="#fffff0" fill-opacity="0.55"/>
<path d="M42.9,90.2 43.9,88.07 44.9,86.04 45.9,84.11 46.9,82.26 47.9,80.52 48.9,78.87 49.9,77.31 50.9,75.85 51.9,74.48 52.9,73.21 53.9,72.03 54.9,70.95 55.9,69.96 56.9,69.07 57.1,68.9 58.1,69.74 59.1,70.68 60.1,71.72 61.1,72.84 62.1,74.05 63.1,75.33 64.1,76.69 65.1,78.1 66.1,79.57 67.1,81.09 68.1,82.65 69.1,84.25 70.1,85.87 71.1,87.52 72.1,89.19 73.1,90.86 74.1,92.54 75.1,94.22 76.1,95.88 77.1,97.53 78.1,99.15 79.1,100.74 80.1,102.3 81.1,103.81 82.1,105.27 83.1,106.68 84.1,108.02 85.1,109.3 86.1,110.49 87.1,111.61 88.1,112.63 89.1,113.56 90.1,114.38 91.1,115.1 92.1,115.7 93.1,116.18 94.1,116.53 95.1,116.74 96.1,116.81 97.1,116.73 98.1,116.52 99.1,116.17 100.1,115.7 101.1,115.11 102.1,114.43 103.1,113.65 104.1,112.79 105.1,111.85 106.1,110.85 107.1,109.79 108.1,108.69 109.1,107.56 110.1,106.4 111.1,105.22 112.1,104.03 113.1,102.85 114.1,101.67 115.1,100.49 116.1,99.31 117.1,98.13 118.1,96.94 119.1,95.75 120.1,94.55 121.1,93.35 122.1,92.13 123.1,90.9 124.1,89.66 125.1,88.4 126.1,87.12 127.1,85.82 128.1,84.5 129.1,83.17 130.1,81.81 131.1,80.44 132.1,79.06 133.1,77.66 134.1,76.24 135.1,74.82 136.1,73.38 137.1,71.94 138.1,70.49 139.1,69.03 140.1,67.56 141.1,66.09 142.1,64.62 143.1,63.15 143.2,63 144.2,63.51 145.2,64.3 146.2,65.33 147.2,66.58 148.2,68.01 149.2,69.6 150.2,71.33 151.2,73.15 152.2,75.04 153.2,76.98 154.2,78.93 155.2,80.86 156.2,82.76 157.2,84.63 158.2,86.46 159.2,88.26 160.2,90.04 161.2,91.78 162.2,93.49 163.2,95.18 164.2,96.84 165.2,98.47 166.2,100.07 167.2,101.64 168.2,103.18 169.2,104.67 170.2,106.12 171.2,107.51 172.2,108.85 173.2,110.12 174.2,111.33 175.2,112.46 176.2,113.51 177.2,114.47 178.2,115.35 179.2,116.13 180.2,116.81 181.2,117.39 182.2,117.85 183.2,118.19 184.2,118.42 185.2,118.51 186.2,118.47 187.2,118.3 188.2,118.01 189.2,117.59 190.2,117.06 191.2,116.43 192.2,115.7 193.2,114.89 194.2,113.99 195.2,113.02 196.2,111.99 197.2,110.9 198.2,109.76 199.2,108.58 200.2,107.35 201.2,106.09 202.2,104.79 203.2,103.44 204.2,102.06 205.2,100.64 206.2,99.19 207.2,97.7 208.2,96.17 209.2,94.6 210.2,93 211.2,91.37 212.2,89.71 213.2,88.02 214.2,86.33 215.2,84.62 216.2,82.93 217.2,81.24 218.2,79.57 219.2,77.93 220.2,76.33 221.2,74.77 222.2,73.28 223.2,71.85 224.2,70.53 225.2,69.31 226.2,68.22 227.2,67.28 227.8,66.8 228.8,67.63 229.8,68.58 230.8,69.62 231.8,70.76 232.8,71.98 233.8,73.28 234.8,74.64 235.8,76.05 236.8,77.51 237.8,79 238.8,80.52 239.8,82.05 240.8,83.59 241.8,85.13 242.8,86.67 243.8,88.21 244.8,89.74 245.8,91.27 246.8,92.79 247.8,94.29 248.8,95.78 249.8,97.25 250.8,98.7 251.8,100.13 252.8,101.53 253.8,102.89 254.8,104.22 255.8,105.5 256.8,106.74 257.8,107.93 258.8,109.06 259.8,110.13 260.8,111.14 261.8,112.07 262.8,112.94 263.8,113.72 264.8,114.42 265.8,115.03 266.8,115.56 267.8,115.98 268.8,116.31 269.8,116.52 270.8,116.63 271.8,116.63 272.8,116.5 273.8,116.26 274.8,115.92 275.8,115.46 276.8,114.91 277.8,114.25 278.8,113.51 279.8,112.67 280.8,111.75 281.8,110.75 282.8,109.67 283.8,108.52 284.8,107.3 285.8,106.02 286.8,104.68 287.8,103.28 288.8,101.83 289.8,100.34 290.8,98.8 291.8,97.22 292.8,95.61 293.8,93.96 294.8,92.3 295.8,90.6 296.8,88.9 297.8,87.17 298.8,85.44 299.8,83.7 300.8,81.96 301.8,80.23 302.8,78.5 303.8,76.78 304.8,75.08 305.8,73.4 306.8,71.74 307.8,70.11 308.8,68.51 309.8,66.95 309.9,66.8 310.9,67.13 311.9,67.61 312.9,68.22 313.9,68.96 314.9,69.82 315.9,70.78 316.9,71.85 317.9,73.01 318.9,74.26 319.9,75.58 320.9,76.98 321.9,78.43 322.9,79.94 323.9,81.5 324.9,83.09 325.9,84.71 326.9,86.35 327.9,88.01 328.9,89.67 329.9,91.32 330.9,92.97 331.9,94.6 332.9,96.21 333.9,97.8 334.9,99.35 335.9,100.88 336.9,102.37 337.9,103.81 338.9,105.21 339.9,106.57 340.9,107.86 341.9,109.1 342.9,110.28 343.9,111.39 344.9,112.43 345.9,113.4 346.9,114.28 347.9,115.08 348.9,115.8 349.9,116.42 350.9,116.95 351.9,117.37 352.9,117.69 353.9,117.9 354.9,118 355.9,117.98 356.9,117.85 357.9,117.6 358.9,117.24 359.9,116.78 360.9,116.21 361.9,115.55 362.9,114.8 363.9,113.97 364.9,113.04 365.9,112.04 366.9,110.97 367.9,109.82 368.9,108.61 369.9,107.34 370.9,106.01 371.9,104.62 372.9,103.19 373.9,101.71 374.9,100.2 375.9,98.64 376.9,97.06 377.9,95.44 378.9,93.81 379.9,92.15 380.9,90.48 381.9,88.8 382.9,87.1 383.9,85.4 384.9,83.69 385.9,81.98 386.9,80.26 387.9,78.55 388.9,76.84 389.9,75.13 390.9,73.43 391.9,71.74 392.9,70.07 393.9,68.45 394.9,66.91 395.9,65.52 396.9,64.3 397.9,63.32 398.6,62.8 399.6,63.23 400.6,63.93 401.6,64.86 402.6,66.01 403.6,67.35 404.6,68.86 405.6,70.5 406.6,72.27 407.6,74.13 408.6,76.05 409.6,78.03 410.6,80.02 411.6,82.01 412.6,83.97 413.6,85.88 414.6,87.72 415.6,89.47 416.6,91.12 417.6,92.71 418.6,94.22 419.6,95.68 420.6,97.1 421.6,98.49 422.6,99.84 423.6,101.19 424.6,102.53 425.6,103.88 426.6,105.24 427.6,106.64 428.6,108.06 429.6,109.49 430.6,110.91 431.6,112.29 432.6,113.61 433.6,114.85 434.6,115.98 435.6,116.99 436.6,117.85 437.6,118.54 438.6,119.06 439.6,119.43 440.6,119.63 441.6,119.68 442.6,119.59 443.6,119.36 444.6,118.99 445.6,118.5 446.6,117.89 447.6,117.16 448.6,116.32 449.6,115.37 450.6,114.33 451.6,113.2 452.6,111.98 453.6,110.67 454.6,109.3 455.6,107.85 456.6,106.35 457.6,104.78 458.6,103.16 459.6,101.5 460.6,99.8 461.6,98.07 462.6,96.3 463.6,94.52 464.6,92.72 465.6,90.91 466.6,89.09 467.6,87.28 468.6,85.47 469.6,83.68 470.6,81.91 471.6,80.16 472.6,78.44 473.6,76.76 474.6,75.12 475.6,73.53 476.6,71.99 477.6,70.52 478.6,69.11 479.6,67.77 480.6,66.51 481.6,65.33 481.9,65 482.9,65.37 483.9,65.99 484.9,66.84 485.9,67.9 486.9,69.15 487.9,70.55 488.9,72.09 489.9,73.74 490.9,75.48 491.9,77.28 492.9,79.12 493.9,80.98 494.9,82.84 495.9,84.66 496.9,86.42 497.9,88.13 498.9,89.79 499.9,91.39 500.9,92.94 501.9,94.43 502.9,95.89 503.9,97.29 504.9,98.66 505.9,99.98 506.9,101.26 507.9,102.51 508.9,103.72 509.9,104.9 510.9,106.05 511.9,107.14 512.9,108.2 513.9,109.2 514.9,110.14 515.9,111.03 516.9,111.85 517.9,112.6 518.9,113.27 519.9,113.87 520.9,114.38 521.9,114.81 522.9,115.14 523.9,115.37 524.9,115.51 525.9,115.54 526.9,115.46 527.9,115.27 528.9,114.98 529.9,114.6 530.9,114.14 531.9,113.61 532.9,113.01 533.9,112.36 534.9,111.66 535.9,110.92 536.9,110.15 537.9,109.35 538.9,108.55 539.9,107.74 540.9,106.93 541.9,106.12 542.9,105.32 543.9,104.53 544.9,103.75 545.9,102.97 546.9,102.19 547.9,101.43 548.9,100.67 549.9,99.92 550.9,99.18 551.9,98.45 552.9,97.73 553.9,97.02 554.9,96.32 555.9,95.62 556.9,94.94 557.9,94.27 558.9,93.61 559.9,92.97 560.9,92.33 561.9,91.71 562.9,91.1 563.9,90.5 564.9,89.92 565.9,89.35 566.9,88.79 567.9,88.25 568.9,87.72 569.9,87.21 570.9,86.72 571.9,86.24 572.9,85.77 573.9,85.33 574.9,84.89 575.9,84.47 576.9,84.04 577.9,83.58 578.9,83.1 579.9,82.58 580.9,82.01 581.9,81.37 582.9,80.66 583.9,79.86 584.9,78.96 585.9,77.94 586.9,76.81 587.9,75.54 588.9,74.14 589.9,72.66 590.9,71.13 591.9,69.62 592.9,68.17 593.9,66.84 594.9,65.68 595.9,64.74 596.9,64.07 597.9,63.71 598,63.7 599,64.48 600,65.4 601,66.45 602,67.62 603,68.89 604,70.25 605,71.69 606,73.2 607,74.77 608,76.39 609,78.03 610,79.7 611,81.38 612,83.06 613,84.73 614,86.38 615,88 616,89.6 617,91.18 618,92.74 619,94.26 620,95.76 621,97.22 622,98.66 623,100.05 624,101.41 625,102.74 626,104.02 627,105.26 628,106.46 629,107.61 630,108.72 631,109.79 632,110.81 633,111.79 634,112.73 635,113.63 636,114.49 637,115.3 638,116.08 639,116.81 640,117.5 641,118.15 642,118.77 643,119.34 644,119.86 645,120.33 646,120.75 647,121.1 648,121.39 649,121.6 650,121.74 651,121.79 652,121.76 653,121.63 654,121.41 655,121.08 656,120.65 657,120.1 658,119.43 659,118.64 660,117.73 661,116.72 662,115.62 663,114.44 664,113.19 665,111.88 666,110.53 667,109.16 668,107.76 669,106.36 670,104.96 671,103.58 672,102.24 673,100.93 674,99.69 675,98.51 676,97.41 677,96.4 678,95.47 679,94.61 680,93.82 681,93.09 682,92.41 683,91.77 684,91.16 685,90.58 686,90.01 687,89.45 688,88.89 689,88.32 690,87.74 691,87.13 692,86.49 693,85.81 694,85.08 695,84.29 696,83.45 697,82.56 698,81.62 699,80.63 700,79.59 701,78.52 702,77.4 703,76.24 704,75.05 705,73.83 706,72.57 707,71.29 708,69.98 709,68.66 710,67.35 711,66.07 712,64.83 713,63.66 714,62.56 715,61.56 716,60.68 717,59.92 717.5,59.6 718.5,60.18 719.5,61.05 720.5,62.18 721.5,63.55 722.5,65.14 723.5,66.91 724.5,68.84 725.5,70.9 726.5,73.08 727.5,75.34 728.5,77.67 729.5,80.02 730.5,82.39 731.5,84.73 732.5,87.04 733.5,89.28 734.5,91.44 735.5,93.53 736.5,95.54 737.5,97.47 738.5,99.31 739.5,101.06 740.5,102.72 741.5,104.28 742.5,105.74 743.5,107.11 744.5,108.36 745.5,109.51 746.5,110.55 747.5,111.47 748.5,112.28 748.8,112.5" stroke="#0000ff" stroke-width="2.35" fill="none" stroke-linejoin="round"/>
<circle cx="57.1" cy="68.9" r="4.7" fill="#0000ff"/>
<circle cx="143.2" cy="63" r="4.7" fill="#0000ff"/>
<circle cx="227.8" cy="66.8" r="4.7" fill="#0000ff"/>
<circle cx="309.9" cy="66.8" r="4.7" fill="#0000ff"/>
<circle cx="398.6" cy="62.9" r="4.7" fill="#0000ff"/>
<circle cx="481.9" cy="65" r="4.7" fill="#0000ff"/>
<circle cx="598" cy="63.7" r="4.7" fill="#0000ff"/>
<circle cx="717.5" cy="59.8" r="4.7" fill="#0000ff"/>
<path d="M52,51.9 L54.2,50.1 L54.2,57.6" stroke="#262626" stroke-width="1.1" fill="none" stroke-linejoin="miter"/>
<text x="133.5" y="55.3" font-size="10" text-anchor="middle" fill="#262626" font-weight="normal">2</text>
<text x="217.7" y="59.9" font-size="10" text-anchor="middle" fill="#262626" font-weight="normal">3</text>
<text x="301" y="61.3" font-size="10" text-anchor="middle" fill="#262626" font-weight="normal">4</text>
<text x="388.2" y="58.5" font-size="10" text-anchor="middle" fill="#262626" font-weight="normal">5</text>
<text x="471" y="62" font-size="10" text-anchor="middle" fill="#262626" font-weight="normal">6</text>
<text x="586.3" y="62.3" font-size="10" text-anchor="middle" fill="#262626" font-weight="normal">7</text>
<text x="706" y="58.4" font-size="10" text-anchor="middle" fill="#262626" font-weight="normal">8</text>
<rect x="42.9" y="28.4" width="705.6" height="133.7" fill="none" stroke="#8c8c8c" stroke-width="1"/>
<text x="38.6" y="32.3" font-size="11" text-anchor="end" fill="#262626" font-weight="normal">0.4</text>
<text x="38.6" y="65.75" font-size="11" text-anchor="end" fill="#262626" font-weight="normal">0.2</text>
<text x="38.6" y="99.2" font-size="11" text-anchor="end" fill="#262626" font-weight="normal">0</text>
<text x="38.6" y="132.65" font-size="11" text-anchor="end" fill="#262626" font-weight="normal">-0.2</text>
<text x="38.6" y="166.1" font-size="11" text-anchor="end" fill="#262626" font-weight="normal">-0.4</text>
<text x="92.5" y="176.4" font-size="11" text-anchor="middle" fill="#262626" font-weight="normal">25</text>
<text x="191.83" y="176.4" font-size="11" text-anchor="middle" fill="#262626" font-weight="normal">25.5</text>
<text x="291.17" y="176.4" font-size="11" text-anchor="middle" fill="#262626" font-weight="normal">26</text>
<text x="390.5" y="176.4" font-size="11" text-anchor="middle" fill="#262626" font-weight="normal">26.5</text>
<text x="489.84" y="176.4" font-size="11" text-anchor="middle" fill="#262626" font-weight="normal">27</text>
<text x="589.17" y="176.4" font-size="11" text-anchor="middle" fill="#262626" font-weight="normal">27.5</text>
<text x="688.51" y="176.4" font-size="11" text-anchor="middle" fill="#262626" font-weight="normal">28</text>
<text x="391.5" y="191.6" font-size="12" text-anchor="middle" fill="#262626" font-weight="normal">Time (s)</text>
<text transform="translate(11,95.2) rotate(-90)" font-size="12" text-anchor="middle" fill="#262626">Audio &amp; pressure signals</text>
<line x1="71.3" y1="23" x2="143.6" y2="23" stroke="#000" stroke-width="1.2"/><path d="M67.3,23 L76.3,20 L74.9,23 L76.3,26 Z" fill="#000"/><path d="M147.6,23 L138.6,20 L140,23 L138.6,26 Z" fill="#000"/>
<text x="107.64" y="20.4" font-size="12.7" text-anchor="middle" fill="#000" font-weight="normal">425 ms</text>
<line x1="155.9" y1="23" x2="228.2" y2="23" stroke="#000" stroke-width="1.2"/><path d="M151.9,23 L160.9,20 L159.5,23 L160.9,26 Z" fill="#000"/><path d="M232.2,23 L223.2,20 L224.6,23 L223.2,26 Z" fill="#000"/>
<text x="192.12" y="20.4" font-size="12.7" text-anchor="middle" fill="#000" font-weight="normal">425 ms</text>
<line x1="240.45" y1="23" x2="312.4" y2="23" stroke="#000" stroke-width="1.2"/><path d="M236.45,23 L245.45,20 L244.05,23 L245.45,26 Z" fill="#000"/><path d="M316.4,23 L307.4,20 L308.8,23 L307.4,26 Z" fill="#000"/>
<text x="276.6" y="20.4" font-size="12.7" text-anchor="middle" fill="#000" font-weight="normal">425 ms</text>
<line x1="325" y1="23" x2="397" y2="23" stroke="#000" stroke-width="1.2"/><path d="M321,23 L330,20 L328.6,23 L330,26 Z" fill="#000"/><path d="M401,23 L392,20 L393.4,23 L392,26 Z" fill="#000"/>
<text x="361.08" y="20.4" font-size="12.7" text-anchor="middle" fill="#000" font-weight="normal">425 ms</text>
<line x1="408" y1="23" x2="507.3" y2="23" stroke="#000" stroke-width="1.2"/><path d="M404,23 L413,20 L411.6,23 L413,26 Z" fill="#000"/><path d="M511.3,23 L502.3,20 L503.7,23 L502.3,26 Z" fill="#000"/>
<text x="457.99" y="20.4" font-size="12.7" text-anchor="middle" fill="#000" font-weight="normal">550 ms</text>
<line x1="517.55" y1="23" x2="616.9" y2="23" stroke="#000" stroke-width="1.2"/><path d="M513.55,23 L522.55,20 L521.15,23 L522.55,26 Z" fill="#000"/><path d="M620.9,23 L611.9,20 L613.3,23 L611.9,26 Z" fill="#000"/>
<text x="567.31" y="20.4" font-size="12.7" text-anchor="middle" fill="#000" font-weight="normal">550 ms</text>
<line x1="626.8" y1="23" x2="726.5" y2="23" stroke="#000" stroke-width="1.2"/><path d="M622.8,23 L631.8,20 L630.4,23 L631.8,26 Z" fill="#000"/><path d="M730.5,23 L721.5,20 L722.9,23 L721.5,26 Z" fill="#000"/>
<text x="676.64" y="20.4" font-size="12.7" text-anchor="middle" fill="#000" font-weight="normal">550 ms</text>
<text x="3.7" y="14.3" font-size="16.3" text-anchor="start" fill="#000" font-weight="bold">a)</text>
<line x1="109.6" y1="324.38" x2="315.0" y2="324.38" stroke="#ececec" stroke-width="1"/>
<line x1="109.6" y1="297.36" x2="315.0" y2="297.36" stroke="#ececec" stroke-width="1"/>
<line x1="109.6" y1="270.34" x2="315.0" y2="270.34" stroke="#ececec" stroke-width="1"/>
<line x1="109.6" y1="243.32" x2="315.0" y2="243.32" stroke="#ececec" stroke-width="1"/>
<line x1="109.6" y1="216.3" x2="315.0" y2="216.3" stroke="#ececec" stroke-width="1"/>
<path d="M124.2,351.4 v-2.5 M153.55,351.4 v-2.5 M182.9,351.4 v-2.5 M212.25,351.4 v-2.5 M241.6,351.4 v-2.5 M270.95,351.4 v-2.5 M300.3,351.4 v-2.5 M109.6,351.4 h2.5 M109.6,324.38 h2.5 M109.6,297.36 h2.5 M109.6,270.34 h2.5 M109.6,243.32 h2.5 M109.6,216.3 h2.5" stroke="#7a7a7a" stroke-width="1" fill="none"/>
<polyline points="109.6,310.87 212.25,310.87 241.6,243.32 315,243.32" stroke="#262626" stroke-width="1" fill="none"/>
<polyline points="109.6,312.49 124.2,306.82 153.55,309.79 182.9,317.79 212.25,300.49 241.6,314.49 270.95,224.68 300.3,217.38 315,217.65" stroke="#0000ff" stroke-width="2.1" fill="none" stroke-dasharray="5.6,4.6"/>
<circle cx="124.2" cy="306.82" r="5.3" fill="#0000ff"/>
<circle cx="153.55" cy="309.79" r="5.3" fill="#0000ff"/>
<circle cx="182.9" cy="317.79" r="5.3" fill="#0000ff"/>
<circle cx="212.25" cy="300.49" r="5.3" fill="#0000ff"/>
<circle cx="241.6" cy="314.49" r="5.3" fill="#0000ff"/>
<circle cx="270.95" cy="224.68" r="5.3" fill="#0000ff"/>
<circle cx="300.3" cy="217.38" r="5.3" fill="#0000ff"/>
<rect x="109.6" y="203.3" width="205.4" height="148.09999999999997" fill="none" stroke="#8c8c8c" stroke-width="1"/>
<text x="105.2" y="356.5" font-size="11" text-anchor="end" fill="#262626" font-weight="normal">350</text>
<text x="105.2" y="329.48" font-size="11" text-anchor="end" fill="#262626" font-weight="normal">400</text>
<text x="105.2" y="302.46" font-size="11" text-anchor="end" fill="#262626" font-weight="normal">450</text>
<text x="105.2" y="275.44" font-size="11" text-anchor="end" fill="#262626" font-weight="normal">500</text>
<text x="105.2" y="248.42" font-size="11" text-anchor="end" fill="#262626" font-weight="normal">550</text>
<text x="105.2" y="221.4" font-size="11" text-anchor="end" fill="#262626" font-weight="normal">600</text>
<text x="124.2" y="367.4" font-size="11" text-anchor="middle" fill="#262626" font-weight="normal">2</text>
<text x="182.9" y="367.4" font-size="11" text-anchor="middle" fill="#262626" font-weight="normal">4</text>
<text x="241.6" y="367.4" font-size="11" text-anchor="middle" fill="#262626" font-weight="normal">6</text>
<text x="300.3" y="367.4" font-size="11" text-anchor="middle" fill="#262626" font-weight="normal">8</text>
<text x="212" y="385.2" font-size="12" text-anchor="middle" fill="#262626" font-weight="normal">Tap number</text>
<text transform="translate(56,277.2) rotate(-90)" font-size="12" text-anchor="middle" fill="#262626">Inter-response interval</text>
<text transform="translate(71.2,277.2) rotate(-90)" font-size="12" text-anchor="middle" fill="#262626">from previous response (ms)</text>
<text x="3" y="219.4" font-size="16.3" text-anchor="start" fill="#000" font-weight="bold">b)</text>
<line x1="500" y1="281.5" x2="646" y2="281.5" stroke="#8a8a8a" stroke-width="1" stroke-dasharray="1.1,1.6"/>
<line x1="573.7" y1="209.4" x2="573.7" y2="355" stroke="#8a8a8a" stroke-width="1" stroke-dasharray="1.1,1.6"/>
<circle cx="638.7" cy="295.5" r="4.45" fill="#0000ff" stroke="#fff" stroke-width="0.6"/>
<circle cx="636.4" cy="301.7" r="4.45" fill="#0000ff" stroke="#fff" stroke-width="0.6"/>
<circle cx="635.9" cy="304.7" r="4.45" fill="#0000ff" stroke="#fff" stroke-width="0.6"/>
<circle cx="632.6" cy="313.1" r="4.45" fill="#0000ff" stroke="#fff" stroke-width="0.6"/>
<circle cx="631.4" cy="315.1" r="4.45" fill="#0000ff" stroke="#fff" stroke-width="0.6"/>
<circle cx="624.2" cy="324.3" r="4.45" fill="#0000ff" stroke="#fff" stroke-width="0.6"/>
<circle cx="593.5" cy="344.4" r="4.45" fill="#0000ff" stroke="#fff" stroke-width="0.6"/>
<circle cx="567" cy="347.4" r="4.45" fill="#0000ff" stroke="#fff" stroke-width="0.6"/>
<circle cx="573.8" cy="281.4" r="66.2" fill="none" stroke="#4d4d4d" stroke-width="1"/>
<line x1="573.7" y1="281.1" x2="640" y2="281.1" stroke="#000" stroke-width="2.1"/>
<text x="594.3" y="278.8" font-size="12" text-anchor="start" fill="#262626" font-weight="normal">Beat</text>
<path d="M650.74,268.08 A76.32,76.32 0 0 0 608.57,207.84" stroke="#000" stroke-width="2.5" fill="none"/>
<path d="M602.0,205.6 L611.2,204.2 L609.4,208.2 L607.6,213.0 Z" fill="#000"/>
<text x="643.2" y="226.2" font-size="12" text-anchor="start" fill="#262626" font-weight="normal">Time</text>
<text x="478.2" y="215.6" font-size="12" text-anchor="middle" fill="#262626" font-weight="normal">Phase</text>
<text x="478" y="230.4" font-size="12" text-anchor="middle" fill="#262626" font-weight="normal">(degrees)</text>
<line x1="643.4" y1="297.2" x2="651.8" y2="296.7" stroke="#1a1a1a" stroke-width="1"/>
<text x="658.1" y="301.05" font-size="10.8" text-anchor="middle" fill="#262626" font-weight="normal">5</text>
<line x1="640.9" y1="304.7" x2="652.6" y2="309.3" stroke="#1a1a1a" stroke-width="1"/>
<text x="656" y="314.75" font-size="10.8" text-anchor="middle" fill="#262626" font-weight="normal">3</text>
<line x1="640.1" y1="310.1" x2="651" y2="319.3" stroke="#1a1a1a" stroke-width="1"/>
<text x="655.7" y="326.05" font-size="10.8" text-anchor="middle" fill="#262626" font-weight="normal">2</text>
<line x1="637.6" y1="314.3" x2="645.9" y2="325.1" stroke="#1a1a1a" stroke-width="1"/>
<path d="M646.3,328.3 L648.6,326.3 L648.6,333.8" stroke="#262626" stroke-width="1.15" fill="none" stroke-linejoin="miter"/>
<line x1="633.4" y1="320.1" x2="635.4" y2="328.5" stroke="#1a1a1a" stroke-width="1"/>
<text x="637.2" y="337.85" font-size="10.8" text-anchor="middle" fill="#262626" font-weight="normal">4</text>
<line x1="625.5" y1="330.4" x2="627.4" y2="335.7" stroke="#1a1a1a" stroke-width="1"/>
<text x="628" y="345.95" font-size="10.8" text-anchor="middle" fill="#262626" font-weight="normal">8</text>
<line x1="565.9" y1="354.2" x2="564.3" y2="358.6" stroke="#1a1a1a" stroke-width="1"/>
<text x="563.6" y="368.35" font-size="10.8" text-anchor="middle" fill="#262626" font-weight="normal">6</text>
<line x1="596" y1="350.3" x2="598.2" y2="354.8" stroke="#1a1a1a" stroke-width="1"/>
<text x="599" y="364.25" font-size="10.8" text-anchor="middle" fill="#262626" font-weight="normal">7</text>
<text x="419.6" y="219.9" font-size="16.3" text-anchor="start" fill="#000" font-weight="bold">c)</text>
</svg>
</body></html>
